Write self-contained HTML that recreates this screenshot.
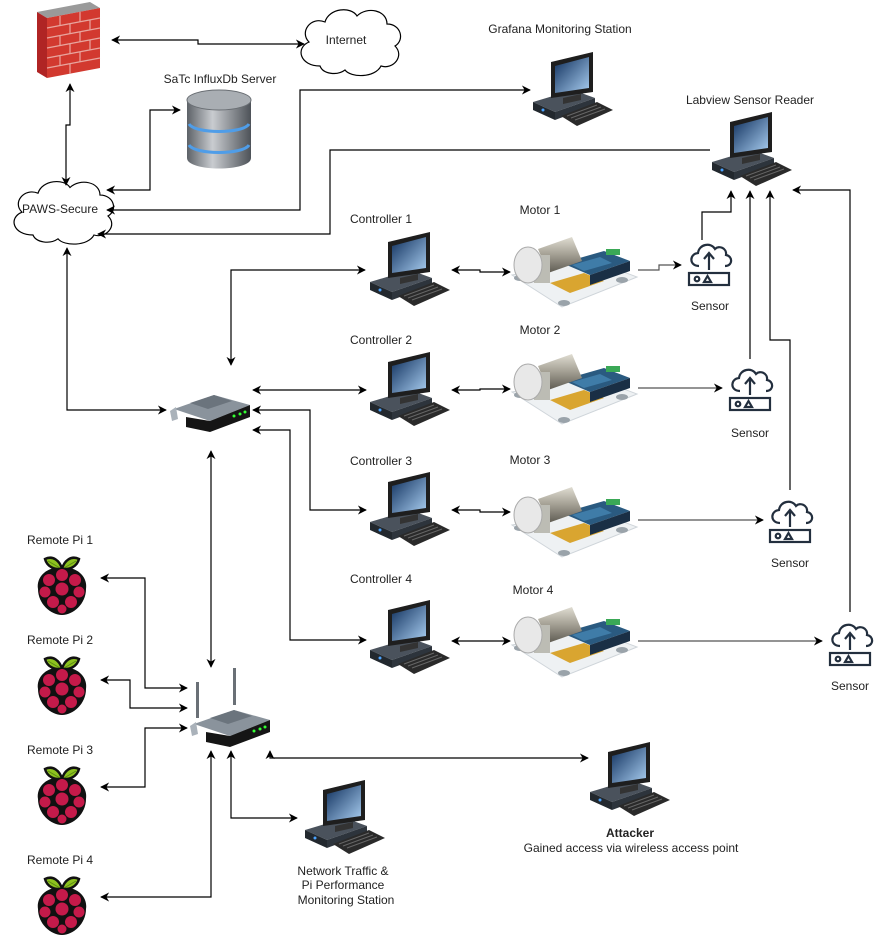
<!DOCTYPE html>
<html><head><meta charset="utf-8"><style>
html,body{margin:0;padding:0;background:#fff;}
svg{display:block;}
text{font-family:"Liberation Sans",sans-serif;font-size:12px;fill:#222;}
</style></head><body>
<svg width="881" height="937" viewBox="0 0 881 937" xmlns="http://www.w3.org/2000/svg">
<defs>
<marker id="a" viewBox="0 0 10 10" refX="9" refY="5" markerWidth="9" markerHeight="9" markerUnits="userSpaceOnUse" orient="auto-start-reverse"><path d="M0,0 L10,5 L0,10 L3,5 z" fill="#000"/></marker>
<linearGradient id="scr" x1="0" y1="0" x2="1" y2="1"><stop offset="0" stop-color="#0f2f5c"/><stop offset="1" stop-color="#a8cdf0"/></linearGradient>
<linearGradient id="cyl" x1="0" y1="0" x2="1" y2="0"><stop offset="0" stop-color="#5d6268"/><stop offset="0.4" stop-color="#c9ccd0"/><stop offset="1" stop-color="#4d5258"/></linearGradient>
<linearGradient id="mot" x1="0" y1="0" x2="0" y2="1"><stop offset="0" stop-color="#e0ddd2"/><stop offset="0.5" stop-color="#a29e92"/><stop offset="1" stop-color="#5e5b52"/></linearGradient>
<g id="pc">
 <polygon points="0,52 40,40 62,48 22,62" fill="#4a525c"/>
 <polygon points="0,52 22,62 22,70 0,60" fill="#22282e"/>
 <polygon points="22,62 62,48 62,55 22,70" fill="#2d343c"/>
 <polygon points="30,48 48,44 48,50 30,54" fill="#333"/>
 <polygon points="18,12 60,2 60,42 18,48" fill="#1e1e1e"/>
 <polygon points="22,16 56,7 56,38 22,43" fill="url(#scr)"/>
 <polygon points="28,66 64,52 80,60 44,76" fill="#2a2a2a"/>
 <path d="M34,66 L64,55 M38,68 L68,57 M42,70 L72,59" stroke="#666" stroke-width="1"/>
 <circle cx="10" cy="60" r="1.5" fill="#4aa3ff"/>
</g>
<g id="motor">
 <polygon points="0,40 80,25 125,42 50,72" fill="#eef1f3" stroke="#cfd5da"/>
 <ellipse cx="8" cy="43" rx="6" ry="3" fill="#9aa3aa"/>
 <ellipse cx="110" cy="45" rx="6" ry="3" fill="#9aa3aa"/>
 <ellipse cx="52" cy="68" rx="6" ry="3" fill="#9aa3aa"/>
 <polygon points="38,48 72,38 92,46 58,58" fill="#d9a530"/>
 <polygon points="50,28 92,16 118,26 78,40" fill="#2a5a80"/>
 <polygon points="78,40 118,26 118,36 78,50" fill="#1a2f45"/>
 <polygon points="60,30 88,22 100,28 72,36" fill="#3f7ca8"/>
 <rect x="94" y="14" width="14" height="6" fill="#3aa856"/>
 <polygon points="26,14 60,2 70,26 36,38" fill="url(#mot)"/>
 <rect x="22" y="20" width="16" height="28" fill="#bcbcb4"/>
 <ellipse cx="16" cy="30" rx="14" ry="18" fill="#e8e8e8" stroke="#aaa"/>
</g>
<g id="sensor" fill="none" stroke="#232f3e" stroke-width="2.2">
 <path d="M12,26 C2,26 2,14 11,13 C12,4 24,2 28,9 C32,5 40,8 39,15 C46,16 46,26 38,26"/>
 <path d="M22,30 V14 M17,19 L22,13 L27,19"/>
 <rect x="2" y="33" width="40" height="12"/>
 <circle cx="10" cy="39" r="2.3"/>
 <path d="M17,42 L20.5,36 L24,42 Z"/>
</g>
<g id="pi">
 <path d="M12,6 C20,2 27,8 29,16 C22,17 14,14 12,6 Z" fill="#8dc21f" stroke="#111" stroke-width="2.5"/>
 <path d="M46,6 C38,2 31,8 29,16 C36,17 44,14 46,6 Z" fill="#8dc21f" stroke="#111" stroke-width="2.5"/>
 <path d="M15,8 L27,15 M43,8 L31,15" stroke="#5a8a10" stroke-width="1"/>
 <path d="M29,15 C14,13 3,24 5,36 C5,51 18,62 29,62 C40,62 53,51 53,36 C55,24 44,13 29,15 Z" fill="#111"/>
 <g fill="#c51a4a"><circle cx="29" cy="22" r="6"/><circle cx="16" cy="27" r="6"/><circle cx="42" cy="27" r="6"/><circle cx="12" cy="39" r="5.5"/><circle cx="46" cy="39" r="5.5"/><circle cx="29" cy="36" r="6.5"/><circle cx="20" cy="49" r="6"/><circle cx="38" cy="49" r="6"/><circle cx="29" cy="56" r="4.5"/></g>
</g>
<g id="router">
 <polygon points="4,22 44,8 80,18 40,34" fill="#8a939c"/>
 <polygon points="0,24 6,20 8,32 2,34" fill="#aab2ba"/>
 <polygon points="16,30 40,34 80,18 80,30 40,45 16,40" fill="#151515"/>
 <polygon points="20,16 44,8 62,14 38,22" fill="#6b747d"/>
 <circle cx="64" cy="29" r="1.5" fill="#3f3"/><circle cx="70" cy="27" r="1.5" fill="#3f3"/><circle cx="75" cy="25" r="1.5" fill="#3f3"/>
</g>
<path id="cloud" d="M25,60 C5,60 0,42 14,36 C4,26 16,10 30,16 C34,2 56,0 62,10 C72,0 92,4 92,18 C106,18 110,34 100,40 C110,50 98,64 86,60 C80,72 56,72 50,64 C42,70 28,68 25,60 Z"/>
</defs>

<!-- Firewall -->
<g>
 <polygon points="37,12 90,2 100,8 47,18" fill="#9a9a9a"/>
 <polygon points="37,12 47,18 47,78 37,72" fill="#b02424"/>
 <polygon points="47,18 100,8 100,68 47,78" fill="#d2392f"/>
 <g stroke="#e8a59e" stroke-width="1.2" fill="none">
  <path d="M47,28 L100,18 M47,38 L100,28 M47,48 L100,38 M47,58 L100,48 M47,68 L100,58"/>
  <path d="M60,16 V26 M80,12 V22 M70,24 V34 M90,20 V30 M60,36 V46 M80,32 V42 M70,44 V54 M90,40 V50 M60,56 V66 M80,52 V62 M70,64 V74"/>
 </g>
</g>
<!-- Internet -->
<use href="#cloud" x="295" y="6" fill="#fff" stroke="#000" stroke-width="1.2"/>
<text x="346" y="44" text-anchor="middle">Internet</text>
<!-- DB -->
<text x="220" y="83" text-anchor="middle">SaTc InfluxDb Server</text>
<g>
 <path d="M187,100 V158 C187,172 251,172 251,158 V100 Z" fill="url(#cyl)"/>
 <ellipse cx="219" cy="100" rx="32" ry="10" fill="#a9aeb3" stroke="#6a6f74"/>
 <path d="M189,124 C195,134 243,134 249,124" stroke="#4f9de8" stroke-width="3" fill="none"/>
 <path d="M189,145 C195,155 243,155 249,145" stroke="#4f9de8" stroke-width="3" fill="none"/>
</g>
<!-- PAWS -->
<g transform="translate(8,178) scale(1.0,0.95)"><use href="#cloud" fill="#fff" stroke="#000" stroke-width="1.2"/></g>
<text x="60" y="213" text-anchor="middle" font-size="13">PAWS-Secure</text>

<!-- Grafana -->
<text x="560" y="33" text-anchor="middle">Grafana Monitoring Station</text>
<use href="#pc" x="533" y="50"/>
<!-- Labview -->
<text x="750" y="104" text-anchor="middle">Labview Sensor Reader</text>
<use href="#pc" x="712" y="110"/>

<!-- Controllers -->
<text x="381" y="223" text-anchor="middle">Controller 1</text>
<use href="#pc" x="370" y="230"/>
<text x="381" y="344" text-anchor="middle">Controller 2</text>
<use href="#pc" x="370" y="350"/>
<text x="381" y="465" text-anchor="middle">Controller 3</text>
<use href="#pc" x="370" y="470"/>
<text x="381" y="583" text-anchor="middle">Controller 4</text>
<use href="#pc" x="370" y="598"/>
<!-- Motors -->
<text x="540" y="214" text-anchor="middle">Motor 1</text>
<use href="#motor" x="512" y="235"/>
<text x="540" y="334" text-anchor="middle">Motor 2</text>
<use href="#motor" x="512" y="352"/>
<text x="530" y="464" text-anchor="middle">Motor 3</text>
<use href="#motor" x="512" y="485"/>
<text x="533" y="594" text-anchor="middle">Motor 4</text>
<use href="#motor" x="512" y="605"/>
<!-- Sensors -->
<use href="#sensor" x="687" y="240"/><text x="710" y="310" text-anchor="middle" fill="#333">Sensor</text>
<use href="#sensor" x="728" y="365"/><text x="750" y="437" text-anchor="middle" fill="#333">Sensor</text>
<use href="#sensor" x="768" y="497"/><text x="790" y="567" text-anchor="middle" fill="#333">Sensor</text>
<use href="#sensor" x="828" y="620"/><text x="850" y="690" text-anchor="middle" fill="#333">Sensor</text>

<!-- Routers -->
<use href="#router" x="170" y="387"/>
<g>
 <rect x="196" y="682" width="3" height="36" fill="#6a7076"/>
 <rect x="233" y="668" width="3" height="37" fill="#6a7076"/>
 <use href="#router" x="190" y="702"/>
</g>

<!-- Pis -->
<text x="60" y="544" text-anchor="middle">Remote Pi 1</text><use href="#pi" x="33" y="553"/>
<text x="60" y="644" text-anchor="middle">Remote Pi 2</text><use href="#pi" x="33" y="653"/>
<text x="60" y="754" text-anchor="middle">Remote Pi 3</text><use href="#pi" x="33" y="763"/>
<text x="60" y="864" text-anchor="middle">Remote Pi 4</text><use href="#pi" x="33" y="873"/>

<!-- Network station -->
<use href="#pc" x="305" y="778"/>
<text x="343" y="875" text-anchor="middle">Network Traffic &amp;</text>
<text x="343" y="889" text-anchor="middle">Pi Performance</text>
<text x="346" y="904" text-anchor="middle">Monitoring Station</text>
<!-- Attacker -->
<use href="#pc" x="590" y="740"/>
<text x="630" y="837" text-anchor="middle" font-weight="bold">Attacker</text>
<text x="631" y="852" text-anchor="middle">Gained access via wireless access point</text>

<!-- Connectors -->
<g fill="none" stroke="#000" stroke-width="1.2">
 <path d="M112,40 H198 V44 H304" marker-start="url(#a)" marker-end="url(#a)"/>
 <path d="M70,84 V125 H66 V185" marker-start="url(#a)" marker-end="url(#a)"/>
 <path d="M107,190 H150 V110 H180" marker-start="url(#a)" marker-end="url(#a)"/>
 <path d="M107,210 H300 V90 H530" marker-start="url(#a)" marker-end="url(#a)"/>
 <path d="M98,234 H330 V150 H710" marker-start="url(#a)"/>
 <path d="M67,248 V410 H166" marker-start="url(#a)" marker-end="url(#a)"/>
 <path d="M365,270 H231 V365" marker-start="url(#a)" marker-end="url(#a)"/>
 <path d="M253,390 H366" marker-start="url(#a)" marker-end="url(#a)"/>
 <path d="M253,410 H310 V510 H366" marker-start="url(#a)" marker-end="url(#a)"/>
 <path d="M253,430 H290 V640 H366" marker-start="url(#a)" marker-end="url(#a)"/>
 <path d="M452,270 H480 V272 H510" marker-start="url(#a)" marker-end="url(#a)"/>
 <path d="M452,390 H480 V389 H510" marker-start="url(#a)" marker-end="url(#a)"/>
 <path d="M452,510 H480 V512 H510" marker-start="url(#a)" marker-end="url(#a)"/>
 <path d="M452,641 H480 V641 H510" marker-start="url(#a)" marker-end="url(#a)"/>
 <path d="M638,270 H659 V265 H681" stroke="#555" marker-end="url(#a)"/>
 <path d="M638,388 H722" stroke="#555" marker-end="url(#a)"/>
 <path d="M638,520 H763" stroke="#555" marker-end="url(#a)"/>
 <path d="M638,641 H822" stroke="#555" marker-end="url(#a)"/>
 <path d="M702,240 V212 H731 V191" marker-end="url(#a)"/>
 <path d="M750,359 V191" marker-end="url(#a)"/>
 <path d="M790,490 V340 H770 V191" marker-end="url(#a)"/>
 <path d="M850,612 V190 H793" marker-end="url(#a)"/>
 <path d="M211,451 V667" marker-start="url(#a)" marker-end="url(#a)"/>
 <path d="M101,578 H145 V688 H187" marker-start="url(#a)" marker-end="url(#a)"/>
 <path d="M101,680 H130 V708 H187" marker-start="url(#a)" marker-end="url(#a)"/>
 <path d="M101,787 H145 V728 H187" marker-start="url(#a)" marker-end="url(#a)"/>
 <path d="M101,897 H211 V751" marker-start="url(#a)" marker-end="url(#a)"/>
 <path d="M231,751 V818 H297" marker-start="url(#a)" marker-end="url(#a)"/>
 <path d="M270,751 V758 H588" marker-start="url(#a)" marker-end="url(#a)"/>
</g>
</svg>
</body></html>
